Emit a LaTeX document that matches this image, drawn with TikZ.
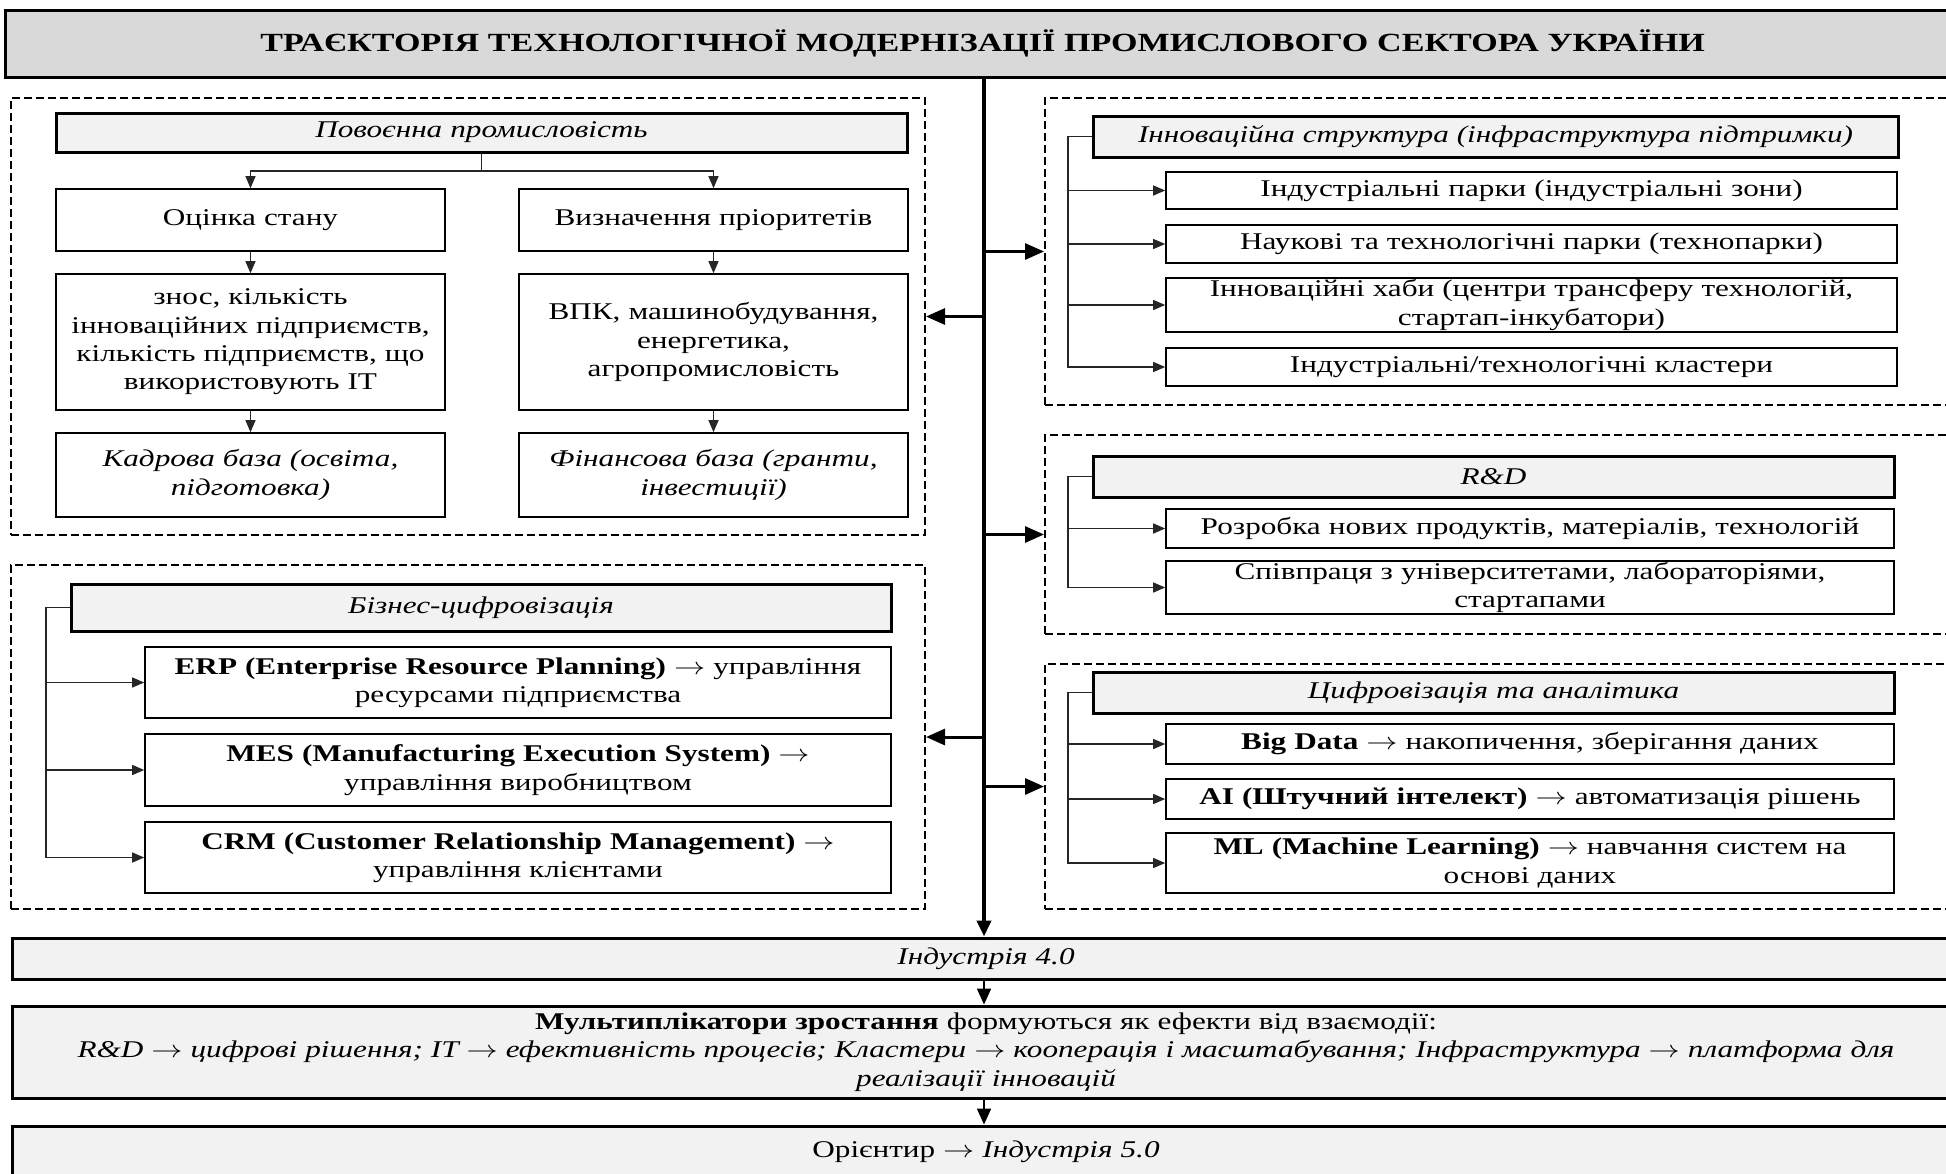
\documentclass[tikz,border=0pt]{standalone}
\usepackage{graphicx}
\usepackage{fontspec}
\setmainfont{Liberation Serif}[FakeStretch=1.3]
\usetikzlibrary{arrows.meta}

\definecolor{ttl}{HTML}{D9D9D9}
\definecolor{hdr}{HTML}{F2F2F2}

% arrow sign used inside the texts, widened like the running text
\newcommand{\ra}{\scalebox{1.3}[1]{\ensuremath{\rightarrow}}}

% rectangle node given by its corners (pixel grid, y downwards)
% \pbox[style]{name}{x1}{y1}{x2}{y2}{text}
\newcommand{\pbox}[7][]{%
  \pgfmathsetmacro{\bw}{(#5-#3)/2}%
  \pgfmathsetmacro{\bh}{(#6-#4)/2}%
  \pgfmathsetmacro{\tw}{\bw-10}%
  \node[rectangle, inner xsep=5pt, inner ysep=0pt,
        minimum width=\bw pt, minimum height=\bh pt,
        text width=\tw pt, align=center, #1]
        (#2) at ({(#3+#5)/2},{(#4+#6)/2}) {#7};%
}

\tikzset{
  txt/.style={font=\fontsize{12}{14.2}\selectfont},
  itxt/.style={font=\fontsize{12}{14.2}\selectfont\itshape},
  dashbox/.style={draw, line width=1pt, dash pattern=on 4pt off 2pt},
  headbox/.style={draw, line width=1.5pt, fill=hdr, itxt},
  plainbox/.style={draw, line width=0.8pt, fill=white, txt},
  flowbox/.style={draw, line width=1.5pt, fill=hdr, txt},
  titlebox/.style={draw, line width=1.5pt, fill=ttl,
                   font=\bfseries\fontsize{13.1}{15}\selectfont},
  mainline/.style={line width=2pt, -{Triangle[length=8pt,width=7pt]}},
  bigarrow/.style={line width=1.5pt, -{Triangle[length=9.5pt,width=8pt]}},
  smallarrow/.style={line width=0.6pt, black!85, -{Triangle[length=6pt,width=5pt]}},
  flowarrow/.style={line width=1pt, -{Triangle[length=8pt,width=7pt]}},
}

\begin{document}
\begin{tikzpicture}[x=0.5pt, y=-0.5pt]
\useasboundingbox (0,0) rectangle (1946,1173);
\clip (0,0) rectangle (1946,1173);

% title
\pbox[titlebox]{title}{5}{10}{1960}{77}{ТРАЄКТОРІЯ ТЕХНОЛОГІЧНОЇ МОДЕРНІЗАЦІЇ ПРОМИСЛОВОГО СЕКТОРА УКРАЇНИ}
\coordinate (spine) at (984,0);

% ---- group frames
\pbox[dashbox]{grpA}{11}{98}{925}{535}{}
\pbox[dashbox]{grpE}{11}{565}{925}{909}{}
\pbox[dashbox]{grpB}{1045}{98}{1960}{405}{}
\pbox[dashbox]{grpC}{1045}{435}{1960}{634}{}
\pbox[dashbox]{grpD}{1045}{664}{1960}{909}{}

% ---- post-war industry
\pbox[headbox]{hA}{56}{113}{907}{152}{Повоєнна промисловість}
\pbox[plainbox]{a1}{56}{189}{445}{251}{Оцінка стану}
\pbox[plainbox]{b1}{519}{189}{908}{251}{Визначення пріоритетів}
\pbox[plainbox]{a2}{56}{274}{445}{410}{знос, кількість\\ інноваційних підприємств,\\ кількість підприємств, що\\ використовують ІТ}
\pbox[plainbox]{b2}{519}{274}{908}{410}{ВПК, машинобудування,\\ енергетика,\\ агропромисловість}
\pbox[plainbox, itxt]{a3}{56}{433}{445}{517}{Кадрова база (освіта,\\ підготовка)}
\pbox[plainbox, itxt]{b3}{519}{433}{908}{517}{Фінансова база (гранти,\\ інвестиції)}
\coordinate (splitA) at (481,171);
\draw[line width=0.6pt, black!85] (hA.south) -- (hA.south |- splitA);
\draw[smallarrow] (hA.south |- splitA) -| (a1.north);
\draw[smallarrow] (hA.south |- splitA) -| (b1.north);
\draw[smallarrow] (a1) -- (a2);
\draw[smallarrow] (a2) -- (a3);
\draw[smallarrow] (b1) -- (b2);
\draw[smallarrow] (b2) -- (b3);

% ---- business digitalisation
\pbox[headbox]{hE}{71}{584}{891}{631}{Бізнес-цифровізація}
\pbox[plainbox]{e1}{145}{647}{891}{718}{\textbf{ERP (Enterprise Resource Planning)} \ra{} управління\\ ресурсами підприємства}
\pbox[plainbox]{e2}{145}{734}{891}{806}{\textbf{MES (Manufacturing Execution System)} \ra\\ управління виробництвом}
\pbox[plainbox]{e3}{145}{822}{891}{893}{\textbf{CRM (Customer Relationship Management)} \ra\\ управління клієнтами}
\coordinate (busE) at (46,0);
\draw[smallarrow] (hE.west) -| (busE |- e3.west) -- (e3.west);
\draw[smallarrow] (busE |- e1.west) -- (e1.west);
\draw[smallarrow] (busE |- e2.west) -- (e2.west);

% ---- innovation infrastructure
\pbox[headbox]{hB}{1093}{116}{1898}{157}{Інноваційна структура (інфраструктура підтримки)}
\pbox[plainbox]{f1}{1166}{172}{1897}{209}{Індустріальні парки (індустріальні зони)}
\pbox[plainbox]{f2}{1166}{225}{1897}{263}{Наукові та технологічні парки (технопарки)}
\pbox[plainbox]{f3}{1166}{278}{1897}{332}{Інноваційні хаби (центри трансферу технологій,\\ стартап-інкубатори)}
\pbox[plainbox]{f4}{1166}{348}{1897}{386}{Індустріальні/технологічні кластери}
\coordinate (busR) at (1068,0);
\draw[smallarrow] (hB.west) -| (busR |- f4.west) -- (f4.west);
\draw[smallarrow] (busR |- f1.west) -- (f1.west);
\draw[smallarrow] (busR |- f2.west) -- (f2.west);
\draw[smallarrow] (busR |- f3.west) -- (f3.west);

% ---- R&D
\pbox[headbox]{hC}{1093}{456}{1894}{497}{R\&D}
\pbox[plainbox]{g1}{1166}{509}{1894}{548}{Розробка нових продуктів, матеріалів, технологій}
\pbox[plainbox]{g2}{1166}{561}{1894}{614}{Співпраця з університетами, лабораторіями,\\ стартапами}
\draw[smallarrow] (hC.west) -| (busR |- g2.west) -- (g2.west);
\draw[smallarrow] (busR |- g1.west) -- (g1.west);

% ---- digitalisation and analytics
\pbox[headbox]{hD}{1093}{672}{1894}{713}{Цифровізація та аналітика}
\pbox[plainbox]{d1}{1166}{724}{1894}{764}{\textbf{Big Data} \ra{} накопичення, зберігання даних}
\pbox[plainbox]{d2}{1166}{779}{1894}{819}{\textbf{AI (Штучний інтелект)} \ra{} автоматизація рішень}
\pbox[plainbox]{d3}{1166}{833}{1894}{893}{\textbf{ML (Machine Learning)} \ra{} навчання систем на\\ основі даних}
\draw[smallarrow] (hD.west) -| (busR |- d3.west) -- (d3.west);
\draw[smallarrow] (busR |- d1.west) -- (d1.west);
\draw[smallarrow] (busR |- d2.west) -- (d2.west);

% ---- outcome chain
\pbox[flowbox, itxt]{ind4}{12}{938}{1960}{979}{Індустрія 4.0}
\pbox[flowbox]{mult}{12}{1006}{1960}{1098}{\textbf{Мультиплікатори зростання} формуються як ефекти від взаємодії:\\
  \textit{R\&D \ra{} цифрові рішення; IT \ra{} ефективність процесів; Кластери \ra{} кооперація і масштабування; Інфраструктура \ra{} платформа для}\\
  \textit{реалізації інновацій}}
\pbox[flowbox]{ind5}{12}{1126}{1960}{1178}{Орієнтир \ra{} \textit{Індустрія 5.0}}

% ---- spine and its branches
\draw[mainline] (title.south -| spine) -- (ind4.north -| spine);
\draw[bigarrow] (grpA.east -| spine) -- (grpA.east);
\draw[bigarrow] (grpE.east -| spine) -- (grpE.east);
\draw[bigarrow] (grpB.west -| spine) -- (grpB.west);
\draw[bigarrow] (grpC.west -| spine) -- (grpC.west);
\draw[bigarrow] (grpD.west -| spine) -- (grpD.west);
\draw[flowarrow] (ind4.south -| spine) -- (mult.north -| spine);
\draw[flowarrow] (mult.south -| spine) -- (ind5.north -| spine);
\end{tikzpicture}
\end{document}
